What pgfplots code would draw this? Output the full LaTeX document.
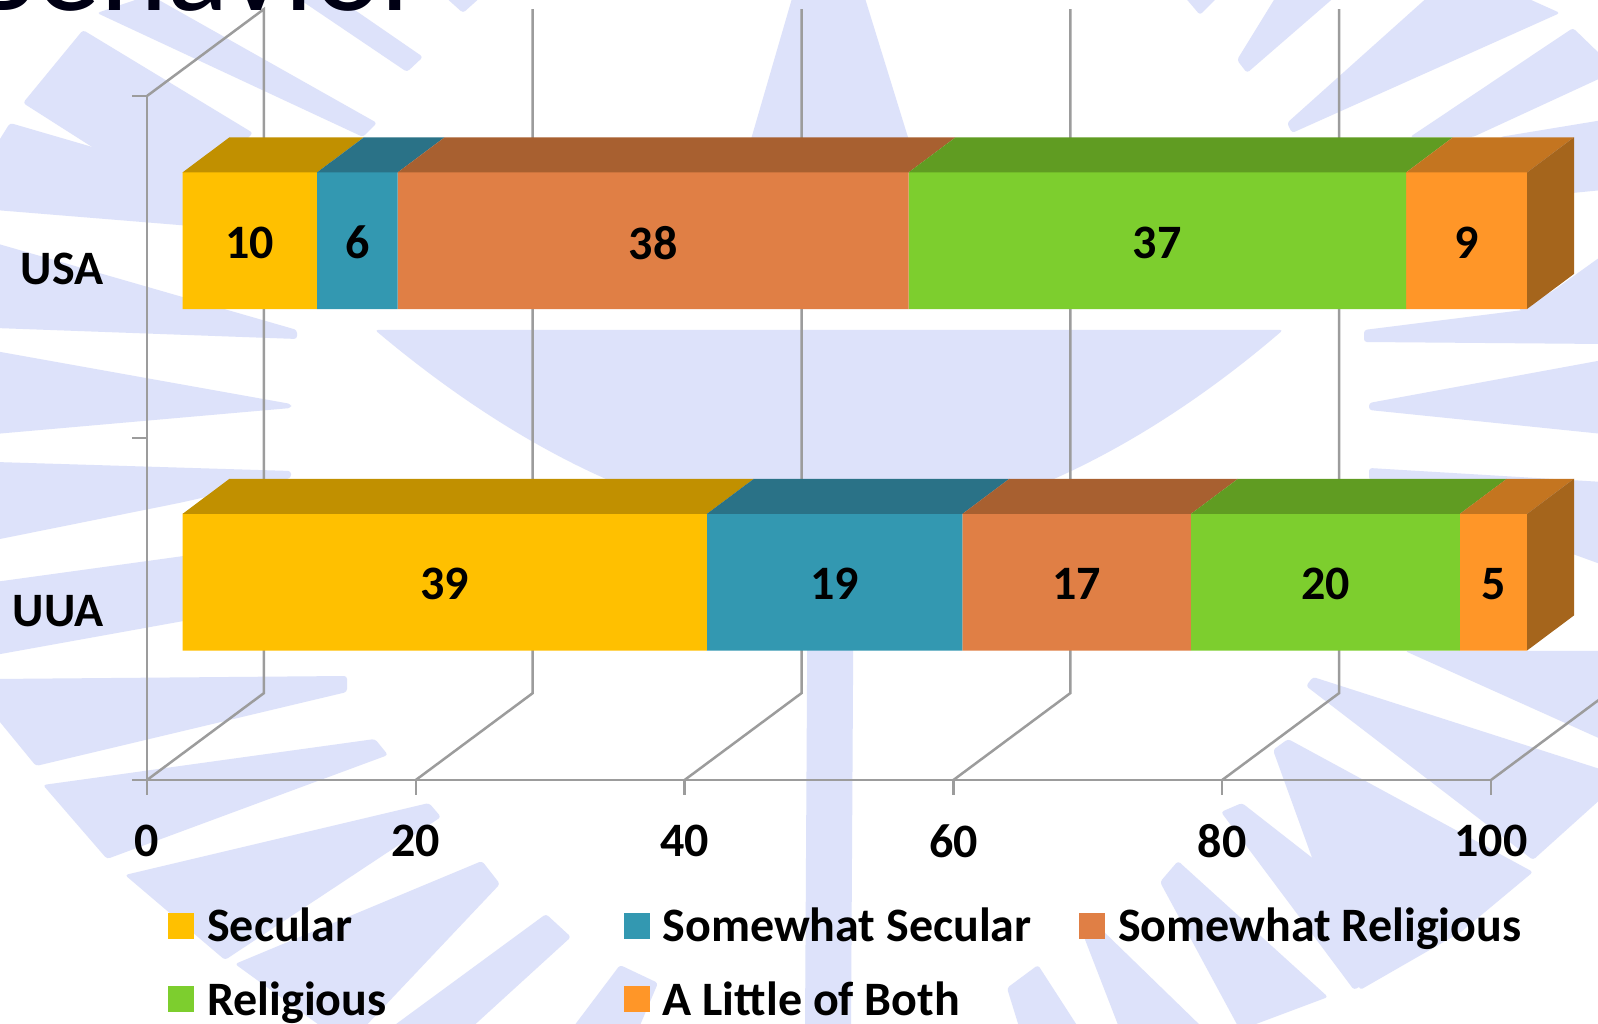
\documentclass[border=0pt]{standalone}
\usepackage{fontspec}
\setmainfont{Carlito}
\usepackage{pgfplots}
\pgfplotsset{compat=1.18}
\definecolor{wm}{HTML}{DDE2FA}
\definecolor{axg}{HTML}{9C9C9C}
\definecolor{cA}{HTML}{FFC000}\definecolor{tA}{HTML}{C19000}
\definecolor{cB}{HTML}{3398B1}\definecolor{tB}{HTML}{2A7287}
\definecolor{cC}{HTML}{E07F45}\definecolor{tC}{HTML}{A86030}
\definecolor{cD}{HTML}{7DCE2E}\definecolor{tD}{HTML}{609C22}
\definecolor{cE}{HTML}{FF9628}\definecolor{tE}{HTML}{C47520}
\definecolor{sE}{HTML}{A5651C}
\newcommand{\bigb}{\fontsize{48}{48}\bfseries\selectfont}
\pgfplotsset{lg/.style={legend image code/.code={\fill[##1,draw=none] (0pt,-13pt) rectangle (26pt,13pt);}}}
\begin{document}
\begin{tikzpicture}
\useasboundingbox (0,0) rectangle (1598pt,1024pt);
\clip (0,0) rectangle (1598pt,1024pt);
\fill[white] (0,0) rectangle (1598pt,1024pt);
\begin{scope}[x=1pt,y=-1pt,yshift=1024pt]
\begin{scope}[wm,rounded corners=3pt]
% cup and stem
\fill (375,330) .. controls (470,410) and (640,530) .. (830,530) .. controls (1020,530) and (1190,410) .. (1283,330) -- cycle;
\fill (808,510) -- (854,510) -- (851,1030) -- (805,1030) -- cycle;
% flame
\fill (793,-5) -- (864,-5) -- (915,160) -- (745,160) -- cycle;
% left
\fill (97,13) -- (150,-5) -- (377,123) -- (363,137) -- cycle;
\fill (83,30) -- (253,133) -- (180,203) -- (23,103) -- cycle;
\fill (293,-5) -- (333,-5) -- (423,57) -- (407,72) -- cycle;
\fill (443,-5) -- (483,-5) -- (463,13) -- cycle;
\fill (-5,147) -- (10,123) -- (240,190) -- (240,230) -- (-5,210) -- cycle;
\fill (-5,243) -- (297,330) -- (297,339) -- (-5,328) -- cycle;
\fill (-5,351) -- (291,404) -- (291,408) -- (-5,434) -- cycle;
\fill (-5,462) -- (291,471) -- (291,478) -- (179,503) -- (-5,540) -- cycle;
\fill (-5,582) -- (300,540) -- (300,600) -- (-5,655) -- cycle;
\fill (-5,679) -- (347,676) -- (347,692) -- (36,766) -- (-5,716) -- cycle;
\fill (43,785) -- (375,739) -- (388,755) -- (107,859) -- cycle;
\fill (125,875) -- (429,803) -- (441,817) -- (225,960) -- cycle;
\fill (482,861) -- (500,884) -- (362,1030) -- (326,1030) -- (235,964) -- cycle;
\fill (546,914) -- (571,937) -- (469,1030) -- (388,1030) -- cycle;
\fill (620,965) -- (658,983) -- (638,1030) -- (571,1030) -- cycle;
% right
\fill (1364,330) -- (1603,300) -- (1603,344) -- (1364,342) -- cycle;
\fill (1369,403) -- (1603,360) -- (1603,434) -- (1369,410) -- cycle;
\fill (1369,468) -- (1603,482) -- (1603,565) -- (1369,480) -- cycle;
\fill (1405,651) -- (1603,651) -- (1603,740) -- cycle;
\fill (1313,677) -- (1603,770) -- (1603,797) -- (1533,860) -- (1306,686) -- cycle;
\fill (1288,739) -- (1533,872) -- (1461,932) -- (1360,990) -- (1273,750) -- cycle;
\fill (1242,803) -- (1425,946) -- (1354,990) -- (1221,812) -- cycle;
\fill (1178,861) -- (1328,997) -- (1240,1030) -- (1160,882) -- cycle;
\fill (1100,928) -- (1205,1030) -- (1120,1030) -- (1084,937) -- cycle;
\fill (1038,965) -- (1080,1030) -- (1020,1030) -- (1007,988) -- cycle;
% upper right
\fill (1183,-5) -- (1220,-5) -- (1200,15) -- cycle;
\fill (1237,60) -- (1277,-5) -- (1337,-5) -- (1247,73) -- cycle;
\fill (1287,123) -- (1430,-5) -- (1520,-5) -- (1560,13) -- (1292,133) -- cycle;
\fill (1410,137) -- (1573,28) -- (1603,57) -- (1603,77) -- (1473,137) -- cycle;
\fill (1500,137) -- (1603,120) -- (1603,190) -- (1500,200) -- cycle;
\fill (1515,300) -- (1550,293) -- (1603,255) -- (1603,300) -- (1527,322) -- cycle;
\end{scope}
\node[anchor=base west,inner sep=0pt,text=black!92!blue,font=\fontsize{128}{128}\selectfont] at (-33,11) {Behavior};
\end{scope}

% walls, floor, axis
\begin{axis}[at={(147pt,244pt)},anchor=south west,scale only axis,width=1344pt,height=684pt,
  xmin=0,xmax=100,ymin=0,ymax=2,clip=false,axis lines=left,
  axis line style={axg,line width=2.5pt,-},
  tick align=outside,major tick length=15pt,
  xtick={0,20,40,60,80,100},ytick={0.5,1.5},yticklabels={UUA,USA},
  x tick style={draw=axg,line width=2.5pt},y tick style={draw=none},
  x tick label style={font=\bigb,text=black},y tick label style={font=\bigb,text=black,yshift=-2pt},
  /pgf/number format/assume math mode=true,
  xticklabel shift=26pt,yticklabel shift=25pt]
\addplot[axg,line width=2.5pt] coordinates {(0,2)(8.7,2.254)(8.7,0.254)(0,0)};
\addplot[axg,line width=2.5pt] coordinates {(20,0)(28.7,0.254)(28.7,2.254)};
\addplot[axg,line width=2.5pt] coordinates {(40,0)(48.7,0.254)(48.7,2.254)};
\addplot[axg,line width=2.5pt] coordinates {(60,0)(68.7,0.254)(68.7,2.254)};
\addplot[axg,line width=2.5pt] coordinates {(80,0)(88.7,0.254)(88.7,2.254)};
\addplot[axg,line width=2.5pt] coordinates {(100,0)(108.7,0.254)};
\addplot[axg,line width=2.5pt] coordinates {(-1.1,0)(0,0)};
\addplot[axg,line width=2.5pt] coordinates {(-1.1,1)(0,1)};
\addplot[axg,line width=2.5pt] coordinates {(-1.1,2)(0,2)};
\end{axis}

% stacked bars and legend
\begin{axis}[at={(182.5pt,271pt)},anchor=south west,scale only axis,width=1344.5pt,height=683pt,
  xmin=0,xmax=100,ymin=0,ymax=2,clip=false,hide axis,
  xbar stacked,bar width=137pt,
  legend cell align=left,
  legend style={at={(axis description cs:-0.0108,-0.224)},anchor=north west,draw=none,fill=none,
    legend columns=3,inner sep=0pt,row sep=34pt,font=\bigb,
    /tikz/every odd column/.append style={column sep=11pt}}]
\addplot[fill=cA,draw=none,lg] coordinates {(39,0.5)(10,1.5)};
\addplot[fill=cB,draw=none,lg] coordinates {(19,0.5)(6,1.5)};
\addplot[fill=cC,draw=none,lg] coordinates {(17,0.5)(38,1.5)};
\addplot[fill=cD,draw=none,lg] coordinates {(20,0.5)(37,1.5)};
\addplot[fill=cE,draw=none,lg] coordinates {(5,0.5)(9,1.5)};
\legend{\makebox[414.5pt][l]{Secular},\makebox[414.5pt][l]{Somewhat Secular},\makebox[400pt][l]{Somewhat Religious},\makebox[414.5pt][l]{Religious},\makebox[414.5pt][l]{A Little of Both}}
\end{axis}

% 3D faces and value labels
\begin{axis}[at={(182.5pt,271pt)},anchor=south west,scale only axis,width=1344.5pt,height=683pt,
  xmin=0,xmax=100,ymin=0,ymax=2,clip=false,hide axis]
\addplot[fill=tA,draw=none] coordinates {(0,1.7)(10,1.7)(13.5,1.803)(3.5,1.803)} --cycle;
\addplot[fill=tB,draw=none] coordinates {(10,1.7)(16,1.7)(19.5,1.803)(13.5,1.803)} --cycle;
\addplot[fill=tC,draw=none] coordinates {(16,1.7)(54,1.7)(57.5,1.803)(19.5,1.803)} --cycle;
\addplot[fill=tD,draw=none] coordinates {(54,1.7)(91,1.7)(94.5,1.803)(57.5,1.803)} --cycle;
\addplot[fill=tE,draw=none] coordinates {(91,1.7)(100,1.7)(103.5,1.803)(94.5,1.803)} --cycle;
\addplot[fill=sE,draw=none] coordinates {(100,1.3)(103.5,1.403)(103.5,1.803)(100,1.7)} --cycle;
\addplot[fill=tA,draw=none] coordinates {(0,0.7)(39,0.7)(42.5,0.803)(3.5,0.803)} --cycle;
\addplot[fill=tB,draw=none] coordinates {(39,0.7)(58,0.7)(61.5,0.803)(42.5,0.803)} --cycle;
\addplot[fill=tC,draw=none] coordinates {(58,0.7)(75,0.7)(78.5,0.803)(61.5,0.803)} --cycle;
\addplot[fill=tD,draw=none] coordinates {(75,0.7)(95,0.7)(98.5,0.803)(78.5,0.803)} --cycle;
\addplot[fill=tE,draw=none] coordinates {(95,0.7)(100,0.7)(103.5,0.803)(98.5,0.803)} --cycle;
\addplot[fill=sE,draw=none] coordinates {(100,0.3)(103.5,0.403)(103.5,0.803)(100,0.7)} --cycle;
\addplot[only marks,mark=none,point meta=explicit symbolic,nodes near coords,
  nodes near coords align={center},every node near coord/.append style={font=\bigb,text=black,anchor=center,yshift=-2pt}]
  table[meta=v] {
x y v
5 1.5 10
13 1.5 6
35 1.5 38
72.5 1.5 37
95.5 1.5 9
19.5 0.5 39
48.5 0.5 19
66.5 0.5 17
85 0.5 20
97.5 0.5 5
};
\end{axis}
\end{tikzpicture}
\end{document}
